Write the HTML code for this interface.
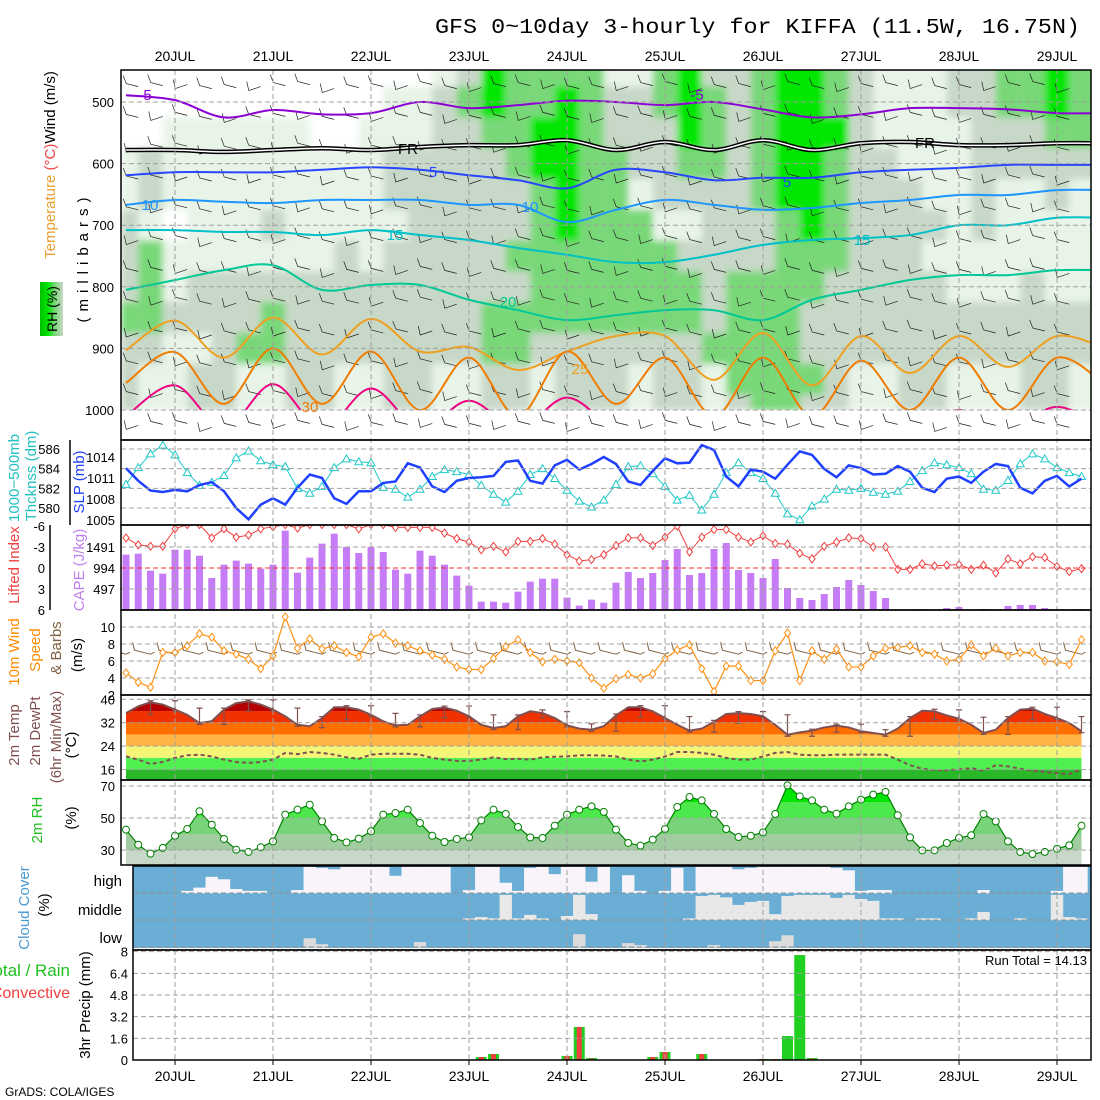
<!DOCTYPE html>
<html><head><meta charset="utf-8"><title>GFS meteogram KIFFA</title>
<style>
html,body{margin:0;padding:0;background:#fff;}
svg{display:block;font-family:"Liberation Sans",sans-serif;}
</style></head>
<body>
<svg id="chart" width="1100" height="1100" viewBox="0 0 1100 1100" xmlns="http://www.w3.org/2000/svg">
<defs>
<clipPath id="clipTop"><rect x="121" y="70" width="970" height="340"/></clipPath>
<clipPath id="clipP2"><rect x="121" y="440" width="970" height="85"/></clipPath>
<clipPath id="clipP3"><rect x="121" y="525" width="970" height="85"/></clipPath>
<clipPath id="clipP4"><rect x="121" y="610" width="970" height="85"/></clipPath>
<clipPath id="clipCloud"><rect x="133" y="866" width="958" height="82"/></clipPath>
<clipPath id="clipTemp"><polygon id="tempPoly" points="0,0"/></clipPath>
<clipPath id="clipRH"><polygon id="rhPoly" points="0,0"/></clipPath>
<filter id="soft" x="-2%" y="-2%" width="104%" height="104%"><feGaussianBlur stdDeviation="3.5"/></filter>
<linearGradient id="rhLegend" x1="0" y1="0" x2="1" y2="0">
<stop offset="0" stop-color="#00c000"/><stop offset="0.35" stop-color="#00e600"/><stop offset="0.65" stop-color="#78d878"/><stop offset="1" stop-color="#c8d8c8"/>
</linearGradient>
</defs>
<text x="435" y="33" font-family="Liberation Mono, monospace" font-size="21" textLength="645" lengthAdjust="spacingAndGlyphs">GFS 0~10day 3-hourly for KIFFA (11.5W, 16.75N)</text>
<g id="gTop"></g>
<g id="gP2"></g>
<g id="gP3"></g>
<g id="gP4"></g>
<g id="gP5"></g>
<g id="gP6"></g>
<g id="gP7"></g>
<g id="gP8"></g>
<g id="gGrid"></g>
<g id="gFrames"></g>
<g id="gLabels">
  <rect x="40" y="282" width="23" height="54" fill="url(#rhLegend)"/>
  <text transform="translate(57,309) rotate(-90)" text-anchor="middle" font-size="14">RH (%)</text>
  <text transform="translate(55,165) rotate(-90)" text-anchor="middle" font-size="15"><tspan fill="#e8a030">Temperature</tspan> <tspan fill="#f04040">(°C)</tspan><tspan fill="#000">Wind (m/s)</tspan></text>
  <text transform="translate(88,257) rotate(-90)" text-anchor="middle" font-size="15" letter-spacing="6">(millibars)</text>
  <text transform="translate(19,478) rotate(-90)" text-anchor="middle" font-size="15" fill="#20c0c0">1000−500mb</text>
  <text transform="translate(36,476) rotate(-90)" text-anchor="middle" font-size="15" fill="#20c0c0">Thcknss (dm)</text>
  <text transform="translate(84,482) rotate(-90)" text-anchor="middle" font-size="15" fill="#2040ff">SLP (mb)</text>
  <text transform="translate(19,565) rotate(-90)" text-anchor="middle" font-size="15" fill="#f04040">Lifted Index</text>
  <text transform="translate(84,570) rotate(-90)" text-anchor="middle" font-size="15" fill="#c080f0">CAPE (J/kg)</text>
  <text transform="translate(19,652) rotate(-90)" text-anchor="middle" font-size="15" fill="#ff8c00">10m Wind</text>
  <text transform="translate(40,650) rotate(-90)" text-anchor="middle" font-size="15" fill="#ff8c00">Speed</text>
  <text transform="translate(61,648) rotate(-90)" text-anchor="middle" font-size="15" fill="#806040">&amp; Barbs</text>
  <text transform="translate(82,655) rotate(-90)" text-anchor="middle" font-size="15">(m/s)</text>
  <text transform="translate(19,735) rotate(-90)" text-anchor="middle" font-size="15" fill="#805050">2m Temp</text>
  <text transform="translate(40,731) rotate(-90)" text-anchor="middle" font-size="15" fill="#805050">2m DewPt</text>
  <text transform="translate(61,737) rotate(-90)" text-anchor="middle" font-size="15" fill="#805050">(6hr Min/Max)</text>
  <text transform="translate(76,745) rotate(-90)" text-anchor="middle" font-size="15">(°C)</text>
  <text transform="translate(42,820) rotate(-90)" text-anchor="middle" font-size="15" fill="#20c020">2m RH</text>
  <text transform="translate(76,818) rotate(-90)" text-anchor="middle" font-size="15">(%)</text>
  <text transform="translate(29,908) rotate(-90)" text-anchor="middle" font-size="15" fill="#4a9ad0">Cloud Cover</text>
  <text transform="translate(49,905) rotate(-90)" text-anchor="middle" font-size="15">(%)</text>
  <text x="122" y="886" text-anchor="end" font-size="15">high</text>
  <text x="122" y="915" text-anchor="end" font-size="15">middle</text>
  <text x="122" y="943" text-anchor="end" font-size="15">low</text>
  <text x="70" y="976" text-anchor="end" font-size="17" fill="#20c020">Total / Rain</text>
  <text x="70" y="998" text-anchor="end" font-size="16" fill="#f04040">Convective</text>
  <text transform="translate(90,1005) rotate(-90)" text-anchor="middle" font-size="15">3hr Precip (mm)</text>
  <text x="1087" y="965" text-anchor="end" font-size="13">Run Total = 14.13</text>
  <text x="5" y="1096" font-size="12">GrADS: COLA/IGES</text>
</g>
<script>
// ===== data =====
const days = ['20JUL','21JUL','22JUL','23JUL','24JUL','25JUL','26JUL','27JUL','28JUL','29JUL'];
const thick = [582.4,584.1,585.5,586.4,585.4,583.6,582.3,582.6,583.3,585.1,585.8,584.8,584.4,584.2,582.0,581.5,582.2,584.1,585.0,584.7,584.6,582.1,581.9,581.1,581.9,583.2,583.9,583.7,583.4,582.3,581.4,580.6,581.7,583.4,584.0,583.0,581.8,580.7,580.1,580.8,582.4,584.2,584.3,583.5,582.2,580.8,581.3,579.8,581.4,583.6,584.6,583.6,583.0,581.5,579.4,578.8,580.2,580.9,581.9,581.8,582.0,581.6,581.4,581.7,582.7,583.8,584.6,584.4,584.1,583.5,581.9,581.8,582.8,584.5,585.5,585.0,584.1,583.6,583.2];
const slp = [1012.4,1010.6,1009.2,1009.0,1009.3,1009.1,1010.0,1010.4,1009.1,1006.7,1005.1,1007.2,1008.1,1007.2,1009.6,1011.5,1011.0,1008.1,1007.3,1009.1,1009.1,1010.3,1010.5,1013.1,1012.5,1009.8,1009.0,1010.6,1011.0,1011.1,1011.3,1013.3,1013.5,1010.6,1010.2,1012.8,1013.6,1012.2,1013.0,1014.0,1013.0,1010.5,1010.0,1012.0,1013.8,1013.1,1013.2,1015.7,1015.0,1011.2,1009.8,1012.2,1011.9,1010.9,1012.9,1014.8,1014.3,1012.3,1011.1,1012.8,1012.4,1011.5,1011.6,1012.7,1011.9,1009.6,1009.0,1010.9,1011.2,1010.3,1011.9,1013.0,1012.7,1009.6,1008.8,1010.6,1011.3,1009.8,1010.9];
const liftedIndex = [-4.3,-3.3,-3.1,-3.1,-5.6,-6.2,-6.2,-4.3,-5.6,-4.4,-4.7,-5.6,-5.9,-6.2,-5.7,-6.2,-6.2,-6.2,-6.2,-5.6,-6.2,-6.2,-5.8,-5.8,-5.8,-5.8,-5.0,-4.2,-3.7,-2.6,-3.1,-2.3,-3.8,-3.8,-4.2,-3.4,-1.9,-1.0,-1.2,-1.9,-3.2,-4.3,-4.3,-3.2,-4.4,-6.0,-2.3,-4.4,-5.5,-5.5,-4.4,-3.7,-4.6,-3.5,-3.4,-2.1,-1.3,-3.1,-3.7,-4.3,-4.2,-3.0,-3.0,0.2,0.2,-0.6,-0.3,-0.4,-0.5,0.2,-0.4,0.7,-1.3,-0.6,-1.6,-1.5,-0.2,0.5,0.1];
const cape = [1310,1333,931,860,1427,1427,1286,757,1073,1168,1097,978,1073,1877,884,1239,1570,1806,1491,1349,1491,1373,955,860,1404,1286,1073,813,576,197,197,173,434,671,741,741,292,103,245,173,647,900,757,876,1183,1444,828,876,1444,1586,947,876,757,1207,521,284,237,379,544,710,592,450,284,0,0,24,0,47,71,0,24,0,95,118,118,47,0,0,24];
const windSpeed = [4.6,3.5,2.9,7.0,7.0,7.8,9.2,8.8,7.2,6.8,6.2,5.1,6.6,11.2,7.5,8.6,7.4,7.8,7.0,6.5,8.8,9.2,8.1,7.8,7.2,6.7,6.2,5.3,5.0,5.0,6.3,7.7,8.5,7.0,5.9,6.2,6.0,5.8,4.0,2.8,3.9,4.4,4.0,4.5,6.3,7.3,7.9,5.1,2.4,5.4,5.4,3.7,3.7,7.2,9.3,3.7,7.2,6.2,7.4,5.3,5.3,6.6,7.5,7.6,7.8,7.0,6.8,6.0,6.2,7.9,6.6,7.5,6.6,7.0,7.0,6.0,5.9,5.6,8.5];
const temp2m = [35.3,37.6,39.0,38.2,36.5,34.7,31.9,32.5,36.5,38.7,39.3,38.2,36.5,34.2,31.3,30.8,33.6,37.3,37.3,36.5,34.7,32.5,31.1,31.3,34.2,36.7,37.2,36.1,34.2,31.3,30.2,30.8,34.2,35.9,35.3,33.6,31.1,30.0,29.6,30.8,34.5,37.3,37.3,35.9,33.6,31.3,29.3,30.0,32.3,35.0,35.3,35.0,34.2,31.3,27.9,28.7,29.3,30.4,31.0,30.4,29.1,28.5,27.9,30.0,33.6,36.1,35.9,34.5,33.4,31.3,28.5,29.6,33.6,36.5,36.8,35.0,33.6,31.9,29.1];
const dew2m = [20.5,19.4,17.9,18.6,20.0,20.9,21.1,20.5,19.4,18.6,18.3,18.6,19.4,21.7,21.3,22.0,21.7,21.1,20.2,19.7,21.1,21.4,21.4,21.4,21.1,20.0,19.4,19.0,19.0,19.4,20.2,19.6,19.7,19.4,20.2,20.4,20.5,20.9,20.9,20.8,20.5,19.4,18.8,19.4,20.5,22.0,22.0,21.7,21.1,20.0,19.4,19.4,20.5,21.7,22.0,21.1,20.9,20.9,21.1,21.1,21.1,21.1,21.1,19.4,17.5,16.3,15.8,15.8,16.1,16.5,15.6,17.5,17.1,16.3,15.6,15.2,14.8,14.5,16.1];
const rh2m = [42.7,33.3,27.7,31.3,38.9,43.1,54.2,45.8,36.9,30.2,28.8,31.7,35.4,52.1,55.2,58.3,47.9,37.5,34.8,37.1,41.7,52.1,53.1,55.2,46.9,38.9,35.0,36.9,37.9,48.5,55.2,52.5,44.4,37.9,37.5,45.2,52.1,55.2,57.3,53.8,42.7,34.4,32.7,36.5,43.1,56.9,63.1,61.0,52.5,43.1,38.1,38.9,41.0,52.5,70.4,63.5,61.0,55.2,52.7,57.3,61.5,64.6,66.3,51.7,37.9,29.8,29.8,34.4,37.5,39.2,52.5,47.9,35.4,28.8,27.5,28.8,30.8,32.9,45.2];
const cloudHigh = [0,0,0,0,0,9,21,61,52,16,9,9,0,0,12,98,94,89,98,98,98,98,65,98,98,98,98,0,12,98,98,39,9,94,98,71,98,98,43,98,0,67,9,0,9,94,9,98,98,98,89,94,98,98,98,98,98,98,94,85,9,12,12,0,0,0,0,0,0,0,12,0,0,0,0,0,9,98,98];
const cloudMid = [0,0,0,0,0,0,0,0,0,0,0,0,0,0,0,0,0,0,0,0,0,0,0,0,0,0,0,0,7,12,7,94,7,20,7,0,16,94,23,0,0,0,0,0,0,0,7,90,94,85,57,68,72,23,90,94,94,94,83,94,79,72,7,7,0,7,7,0,0,7,31,0,0,7,0,0,94,12,7];
const cloudLow = [0,0,0,0,0,0,0,0,0,0,0,0,0,0,0,35,13,0,0,0,0,0,0,0,21,0,0,0,0,0,0,0,0,0,0,0,0,50,0,0,0,17,10,0,0,0,0,0,10,0,0,0,0,24,46,0,0,0,0,0,0,0,0,0,0,0,0,0,0,0,0,0,0,0,0,0,0,0,0];
const precipTotal = [0,0,0,0,0,0,0,0,0,0,0,0,0,0,0,0,0,0,0,0,0,0,0,0,0,0,0,0,0,0.22,0.44,0,0,0,0,0,0.3,2.44,0.15,0,0,0,0,0.22,0.59,0,0,0.44,0,0,0,0,0.07,0.07,1.77,7.75,0.15,0,0,0,0,0,0,0,0,0,0,0,0,0,0,0,0,0,0,0,0,0,0];
const precipConv = [0,0,0,0,0,0,0,0,0,0,0,0,0,0,0,0,0,0,0,0,0,0,0,0,0,0,0,0,0,0.22,0.44,0,0,0,0,0,0.3,2.44,0.1,0,0,0,0,0.22,0.59,0,0,0.44,0,0,0,0,0.07,0.07,0,0.05,0.1,0,0,0,0,0,0,0,0,0,0,0,0,0,0,0,0,0,0,0,0,0,0];
// upper-air RH class grid (0 dry .. 4 saturated), one string per level, 6-hourly columns
const rhLevels = [450,500,550,600,650,700,750,800,850,900,950,1000];
const rhGrid = [
"0000000000000124333311342234432111223343",
"0000000000011234334322343234432111223343",
"0011111100111223344322243234442111122233",
"1211111111122222344332233234432211122222",
"1211111111122222234331222234432221121121",
"2101112111112222234333112223432222121111",
"2311111112122222333333322223332221111111",
"2312222222222222233333332333322222111211",
"3322223222222223333333332333222222222222",
"2211233222222223322222223333222222222222",
"2112211221122112212221221333321122111221",
"2112211221122112212221221233221122111221"];
// isotherm pressure levels (mb), 12-hourly
const isoM5 = [489,497,525,513,520,518,500,510,505,498,500,505,500,512,525,520,510,510,512,518,518];
const isoFR = [578,578,581,578,575,578,573,570,570,562,578,565,578,562,578,567,565,570,570,567,567];
const iso5 = [619,614,614,614,610,606,610,619,627,640,610,614,627,623,623,614,610,607,602,602,602];
const iso10 = [667,659,662,664,659,659,659,667,667,695,675,659,667,675,672,664,659,651,651,643,643];
const iso15 = [708,708,711,711,716,708,716,724,737,748,760,760,748,732,724,721,716,700,700,688,688];
const iso20 = [805,789,773,765,805,797,797,821,838,854,846,838,838,854,821,805,789,781,781,773,773];
const iso25 = [903,855,915,850,910,852,905,898,935,905,880,880,951,875,960,880,940,880,930,880,900];
const iso30 = [956,906,990,900,990,905,1000,915,1010,905,990,915,1010,915,1010,920,1000,915,1000,915,960];
const iso35 = [1010,960,1030,958,1030,965,1030,985,1030,980,1030,1030,1030,1010,1030,1030,1030,1000,1030,995,1030];
const slpTicks = [1014,1011,1008,1005];
const thickTicks = [586,584,582,580];
const liTicks = [-6,-3,0,3,6];
const capeTicks = [1491,994,497];
const windTicks = [10,8,6,4,2];
const tempTicks = [40,32,24,16];
const rhTicks = [70,50,30];
const precipTicks = [8,6.4,4.8,3.2,1.6,0];
const presTicks = [500,600,700,800,900,1000];

// ===== scales =====
const NS = 'http://www.w3.org/2000/svg';
const X = i => 126 + 12.25 * i;
const Yp = p => 102 + (p - 500) * 0.616;
const Yslp = v => 457 + (1014 - v) * 7;
const Ythk = v => 449 + (586 - v) * 9.83;
const Yli = v => 568 + v * 7;
const Ycape = v => 610 - v * 21 / 497;
const Yws = v => 627 + (10 - v) * 8.5;
const Yt = v => 699.3 + (40 - v) * 2.93;
const Yrh = v => 786 + (70 - v) * 1.6;
const Ypr = v => 1060 - v * 13.54;
function mk(tag, attrs, parent) {
  const e = document.createElementNS(NS, tag);
  for (const k in attrs) e.setAttribute(k, attrs[k]);
  parent.appendChild(e);
  return e;
}
function smoothPath(pts) {
  let d = `M${pts[0][0]},${pts[0][1]}`;
  for (let k = 0; k < pts.length - 1; k++) {
    const p0 = pts[Math.max(0, k - 1)], p1 = pts[k], p2 = pts[k + 1], p3 = pts[Math.min(pts.length - 1, k + 2)];
    const c1x = p1[0] + (p2[0] - p0[0]) / 6, c1y = p1[1] + (p2[1] - p0[1]) / 6;
    const c2x = p2[0] - (p3[0] - p1[0]) / 6, c2y = p2[1] - (p3[1] - p1[1]) / 6;
    d += ` C${c1x},${c1y} ${c2x},${c2y} ${p2[0]},${p2[1]}`;
  }
  return d;
}
const G = id => document.getElementById(id);
const gTop = G('gTop'), gP2 = G('gP2'), gP3 = G('gP3'), gP4 = G('gP4'), gP5 = G('gP5'), gP6 = G('gP6'), gP7 = G('gP7'), gP8 = G('gP8'), gGrid = G('gGrid'), gFrames = G('gFrames'), gLabels = G('gLabels');

// ===== upper-air RH fill =====
const rhColors = ['#ffffff', '#e8f4e8', '#c8d8c8', '#78d878', '#00e600'];
const topClip = mk('g', {'clip-path': 'url(#clipTop)'}, gTop);


const topFill = mk('g', {filter: 'url(#soft)'}, topClip);


for (let r = 0; r < rhLevels.length; r++) {
  const p = rhLevels[r];
  const y0 = r === 0 ? 60 : Yp((rhLevels[r - 1] + p) / 2);
  const y1 = r === rhLevels.length - 1 ? 410 : Yp((rhLevels[r + 1] + p) / 2);
  for (let c = 0; c < rhGrid[r].length; c++) {
    const cls = +rhGrid[r][c];
    const x0 = c === 0 ? 121 : X(2 * c) - 12.25;
    const w = c === rhGrid[r].length - 1 ? 1100 - x0 : X(2 * c) + 12.35 - x0;
    const cell = mk('rect', {x: x0, y: y0, width: w, height: y1 - y0 + 0.5, fill: rhColors[cls]}, topFill);
    
    
  }
}
const below = mk('rect', {x: 122, y: 410, width: 968, height: 30, fill: '#fff'}, gTop);


// wind barbs (decorative)
const barbG = mk('g', {stroke: '#222', 'stroke-width': 0.7, fill: 'none'}, gTop);


for (let i = 1; i < 79; i += 2) {
  for (let p = 475; p <= 1025; p += 50) {
    const y = Yp(p) + ((i * 7) % 5) - 2;
    const up = (i + p / 25) % 3 === 0;
    const b = mk('path', {d: up ? `M${X(i)},${y} l-12,4 l-2,-9` : `M${X(i)},${y} l-12,-3 l-3,-8`}, barbG);
    
    
  }
}
// isotherms
const isoDefs = [[isoM5, '#8c00d4', 2], [iso5, '#2846ff', 2], [iso10, '#1e96ff', 2], [iso15, '#00c0c8', 2], [iso20, '#00c896', 2], [iso25, '#f0a020', 2], [iso30, '#f07c00', 2], [iso35, '#f00082', 2]];
const isoNames = ['isotherm-minus5', 'isotherm-5', 'isotherm-10', 'isotherm-15', 'isotherm-20', 'isotherm-25', 'isotherm-30', 'isotherm-35'];
const isoG = mk('g', {'clip-path': 'url(#clipTop)', fill: 'none'}, gTop);


isoDefs.forEach((d, k) => {
  const pts = d[0].map((p, j) => [X(4 * j), Yp(p)]);
  const l = mk('path', {d: smoothPath(pts), stroke: d[1], 'stroke-width': d[2]}, isoG);
  
  
});
const frD = smoothPath(isoFR.map((p, j) => [X(4 * j), Yp(p)]));
const fr1 = mk('path', {d: frD, stroke: '#000', 'stroke-width': 4.5}, isoG);


const fr2 = mk('path', {d: frD, stroke: '#fff', 'stroke-width': 1.5}, isoG);


const isoLabels = [['-5', 145, 100, '#8c00d4'], ['-5', 697, 100, '#8c00d4'], ['FR', 408, 154, '#000'], ['FR', 925, 148, '#000'], ['5', 433, 177, '#2846ff'], ['5', 787, 187, '#2846ff'], ['10', 150, 210, '#1e96ff'], ['10', 530, 212, '#1e96ff'], ['15', 395, 240, '#00c0c8'], ['15', 862, 245, '#00c0c8'], ['20', 508, 307, '#00c896'], ['25', 580, 374, '#f0a020'], ['30', 310, 412, '#f07c00']];
isoLabels.forEach(a => {
  const t = mk('text', {x: a[1], y: a[2], fill: a[3], 'font-size': 15, 'text-anchor': 'middle'}, gTop);
  t.textContent = a[0];
  
  
});
presTicks.forEach(p => {
  const t = mk('text', {x: 114, y: Yp(p) + 5, 'font-size': 13, 'text-anchor': 'end'}, gLabels);
  t.textContent = p;
  
  
});

// ===== grid =====
function hline(y, x0, x1, col, name) {
  const l = mk('line', {x1: x0, x2: x1, y1: y, y2: y, stroke: col || '#a0a0a0', 'stroke-width': 1, 'stroke-dasharray': '5,3'}, gGrid);
  
  
}
presTicks.forEach(p => hline(Yp(p), 121, 1091, null, 'pressure-gridline'));
thickTicks.forEach(v => hline(Ythk(v), 121, 1091, null, 'thickness-gridline'));
capeTicks.forEach(v => hline(Ycape(v), 121, 1091, null, 'cape-gridline'));
windTicks.forEach(v => hline(Yws(v), 121, 1091, null, 'wind-gridline'));
tempTicks.forEach(v => hline(Yt(v), 121, 1091, null, 'temp-gridline'));
rhTicks.forEach(v => hline(Yrh(v), 121, 1091, null, 'rh-gridline'));
[893, 920, 947].forEach(y => hline(y, 133, 1091, '#909090', 'cloud-gridline'));
precipTicks.forEach(v => hline(Ypr(v), 133, 1091, null, 'precip-gridline'));
hline(Yli(0), 121, 1091, '#f03030', 'lifted-index-zero-line');
days.forEach((d, k) => {
  const x = X(4 + 8 * k);
  const l = mk('line', {x1: x, x2: x, y1: 70, y2: 1060, stroke: '#a0a0a0', 'stroke-width': 1, 'stroke-dasharray': '5,3'}, gGrid);
  
  
  const t1 = mk('text', {x: x, y: 61, 'font-size': 14, 'text-anchor': 'middle'}, gLabels);
  t1.textContent = d;
  
  
  const t2 = mk('text', {x: x, y: 1081, 'font-size': 14, 'text-anchor': 'middle'}, gLabels);
  t2.textContent = d;
  
  
  const tk = mk('line', {x1: x, x2: x, y1: 1060, y2: 1065, stroke: '#000'}, gLabels);
  
  
});
function tickLabels(arr, yf, x, name, col) {
  arr.forEach(v => {
    const t = mk('text', {x: x, y: yf(v) + 5, 'font-size': 13, 'text-anchor': 'end', fill: col || '#000'}, gLabels);
    t.textContent = v;
    
    
  });
}
tickLabels(thickTicks, Ythk, 60, 'thickness-tick-label');
tickLabels(slpTicks, Yslp, 115, 'slp-tick-label');
tickLabels(liTicks, Yli, 45, 'lifted-index-tick-label');
tickLabels(capeTicks, Ycape, 115, 'cape-tick-label');
tickLabels(windTicks, Yws, 115, 'wind-tick-label');
tickLabels(tempTicks, Yt, 115, 'temp-tick-label');
tickLabels(rhTicks, Yrh, 115, 'rh-tick-label');
tickLabels(precipTicks, Ypr, 128, 'precip-tick-label');

// ===== panel 2: SLP / thickness =====
const p2 = mk('g', {'clip-path': 'url(#clipP2)', fill: 'none'}, gP2);


const thkLine = mk('polyline', {points: thick.map((v, i) => X(i) + ',' + Ythk(v)).join(' '), stroke: '#20c8c8', 'stroke-width': 1}, p2);


thick.forEach((v, i) => {
  const x = X(i), y = Ythk(v);
  const m = mk('path', {d: `M${x - 4},${y + 3} L${x},${y - 4} L${x + 4},${y + 3} Z`, stroke: '#20c8c8', fill: '#fff', 'stroke-width': 1}, p2);
  
  
});
const slpLine = mk('polyline', {points: slp.map((v, i) => X(i) + ',' + Yslp(v)).join(' '), stroke: '#2040ff', 'stroke-width': 2.5}, p2);



// ===== panel 3: CAPE / LI =====
const p3 = mk('g', {'clip-path': 'url(#clipP3)'}, gP3);


cape.forEach((v, i) => {
  if (v <= 0) return;
  const y = Ycape(v);
  const b = mk('rect', {x: X(i) - 3.5, y: y, width: 7, height: 610 - y, fill: '#c77cf7'}, p3);
  
  
});
const liLine = mk('polyline', {points: liftedIndex.map((v, i) => X(i) + ',' + Yli(v)).join(' '), stroke: '#f04040', 'stroke-width': 1, fill: 'none'}, p3);


liftedIndex.forEach((v, i) => {
  const x = X(i), y = Yli(v);
  const m = mk('path', {d: `M${x},${y - 4} L${x + 3},${y} L${x},${y + 4} L${x - 3},${y} Z`, stroke: '#f04040', fill: '#fff', 'stroke-width': 1}, p3);
  
  
});

// ===== panel 4: wind =====
const p4 = mk('g', {'clip-path': 'url(#clipP4)', fill: 'none'}, gP4);


for (let i = 0; i < 79; i += 2) {
  const x = X(i), y = Yws(6.8);
  const b = mk('path', {d: `M${x},${y} l-16,-4 l-2,-8 M${x},${y} l4,-2`, stroke: '#806040', 'stroke-width': 1}, p4);
  
  
}
const wsLine = mk('polyline', {points: windSpeed.map((v, i) => X(i) + ',' + Yws(v)).join(' '), stroke: '#ff9010', 'stroke-width': 1.2}, p4);


windSpeed.forEach((v, i) => {
  const x = X(i), y = Yws(v);
  const m = mk('path', {d: `M${x},${y - 4} L${x + 3},${y} L${x},${y + 4} L${x - 3},${y} Z`, stroke: '#ff9010', fill: '#fff', 'stroke-width': 1}, p4);
  
  
});

// ===== panel 5: temperature =====
const tPoly = G('tempPoly');
tPoly.setAttribute('points', temp2m.map((v, i) => X(i) + ',' + Yt(v)).join(' ') + ` ${X(78)},780 ${X(0)},780`);
const tBands = [[50, 36, '#b40000'], [36, 32, '#f03200'], [32, 28, '#ff6e00'], [28, 24, '#ffb446'], [24, 20, '#f5f578'], [20, 16, '#50f050'], [16, 0, '#28b828']];
const tFill = mk('g', {'clip-path': 'url(#clipTemp)'}, gP5);


tBands.forEach(b => {
  const y0 = Math.max(695, Yt(b[0])), y1 = Math.min(780, Yt(b[1]));
  const r = mk('rect', {x: 121, y: y0, width: 970, height: y1 - y0, fill: b[2]}, tFill);
  
  
});
const tLine = mk('polyline', {points: temp2m.map((v, i) => X(i) + ',' + Yt(v)).join(' '), stroke: '#805050', 'stroke-width': 2, fill: 'none'}, gP5);


const dLine = mk('polyline', {points: dew2m.map((v, i) => X(i) + ',' + Yt(v)).join(' '), stroke: '#805050', 'stroke-width': 2, fill: 'none', 'stroke-dasharray': '4,3'}, gP5);


for (let i = 2; i < 79; i += 2) {
  const seg = temp2m.slice(i - 2, i + 1);
  const hi = Math.max(...seg) + 0.5, lo = Math.min(...seg) - 0.5;
  const x = X(i);
  const e = mk('path', {d: `M${x},${Yt(hi)} V${Yt(lo)} M${x - 3},${Yt(hi)} h6 M${x - 3},${Yt(lo)} h6`, stroke: '#805050', 'stroke-width': 1.2, fill: 'none'}, gP5);
  
  
}

// ===== panel 6: RH =====
G('rhPoly').setAttribute('points', rh2m.map((v, i) => X(i) + ',' + Yrh(v)).join(' ') + ` ${X(78)},865 ${X(0)},865`);
const rBands = [[100, 60, '#00e600'], [60, 50, '#4ce84c'], [50, 40, '#78d478'], [40, 30, '#a0cca0'], [30, 0, '#c8d8c8']];
const rFill = mk('g', {'clip-path': 'url(#clipRH)'}, gP6);


rBands.forEach(b => {
  const y0 = Math.max(780, Yrh(b[0])), y1 = Math.min(865, Yrh(b[1]));
  const r = mk('rect', {x: 121, y: y0, width: 970, height: y1 - y0, fill: b[2]}, rFill);
  
  
});
const rLine = mk('polyline', {points: rh2m.map((v, i) => X(i) + ',' + Yrh(v)).join(' '), stroke: '#008000', 'stroke-width': 1.2, fill: 'none'}, gP6);


rh2m.forEach((v, i) => {
  const c = mk('circle', {cx: X(i), cy: Yrh(v), r: 3.5, fill: '#fff', stroke: '#008000', 'stroke-width': 1}, gP6);
  
  
});

// ===== panel 7: cloud cover =====
const p7 = mk('g', {'clip-path': 'url(#clipCloud)'}, gP7);


const cbg = mk('rect', {x: 133, y: 866, width: 958, height: 82, fill: '#6aaed6'}, p7);


const cloudSets = [[cloudHigh, 893.3, '#f8f4fa', 'cloud-high-bar'], [cloudMid, 920.3, '#e8e8e8', 'cloud-middle-bar'], [cloudLow, 947.7, '#dcdcdc', 'cloud-low-bar']];
cloudSets.forEach(s => {
  s[0].forEach((v, i) => {
    if (v <= 0) return;
    const h = v / 100 * 27;
    const b = mk('rect', {x: X(i) - 6.2, y: s[1] - h, width: 12.4, height: h, fill: s[2]}, p7);
    
    
  });
});

// ===== panel 8: precip =====
precipTotal.forEach((v, i) => {
  if (v <= 0) return;
  const y = Ypr(v);
  const b = mk('rect', {x: X(i) - 5.5, y: y, width: 11, height: 1060 - y, fill: '#20d020'}, gP8);
  
  
});
precipConv.forEach((v, i) => {
  if (v <= 0) return;
  const y = Ypr(v);
  const b = mk('rect', {x: X(i) - 2.5, y: y, width: 5, height: 1060 - y, fill: '#f04040'}, gP8);
  
  
});

// ===== frames =====
const frames = [[121, 70, 970, 370, 'upper-air-frame'], [121, 440, 970, 85, 'slp-frame'], [121, 525, 970, 85, 'cape-frame'], [121, 610, 970, 85, 'wind-frame'], [121, 695, 970, 85, 'temp-frame'], [121, 780, 970, 85, 'rh-frame'], [133, 866, 958, 84, 'cloud-frame'], [133, 950, 958, 110, 'precip-frame']];
frames.forEach(f => {
  const r = mk('rect', {x: f[0], y: f[1], width: f[2], height: f[3], fill: 'none', stroke: '#000', 'stroke-width': 1.5}, gFrames);
  
  
});
const ax1 = mk('line', {x1: 70, x2: 70, y1: 440, y2: 525, stroke: '#000', 'stroke-width': 1.5}, gFrames);


const ax2 = mk('line', {x1: 50, x2: 50, y1: 525, y2: 610, stroke: '#000', 'stroke-width': 1.5}, gFrames);


</script>
</svg>
</body></html>
